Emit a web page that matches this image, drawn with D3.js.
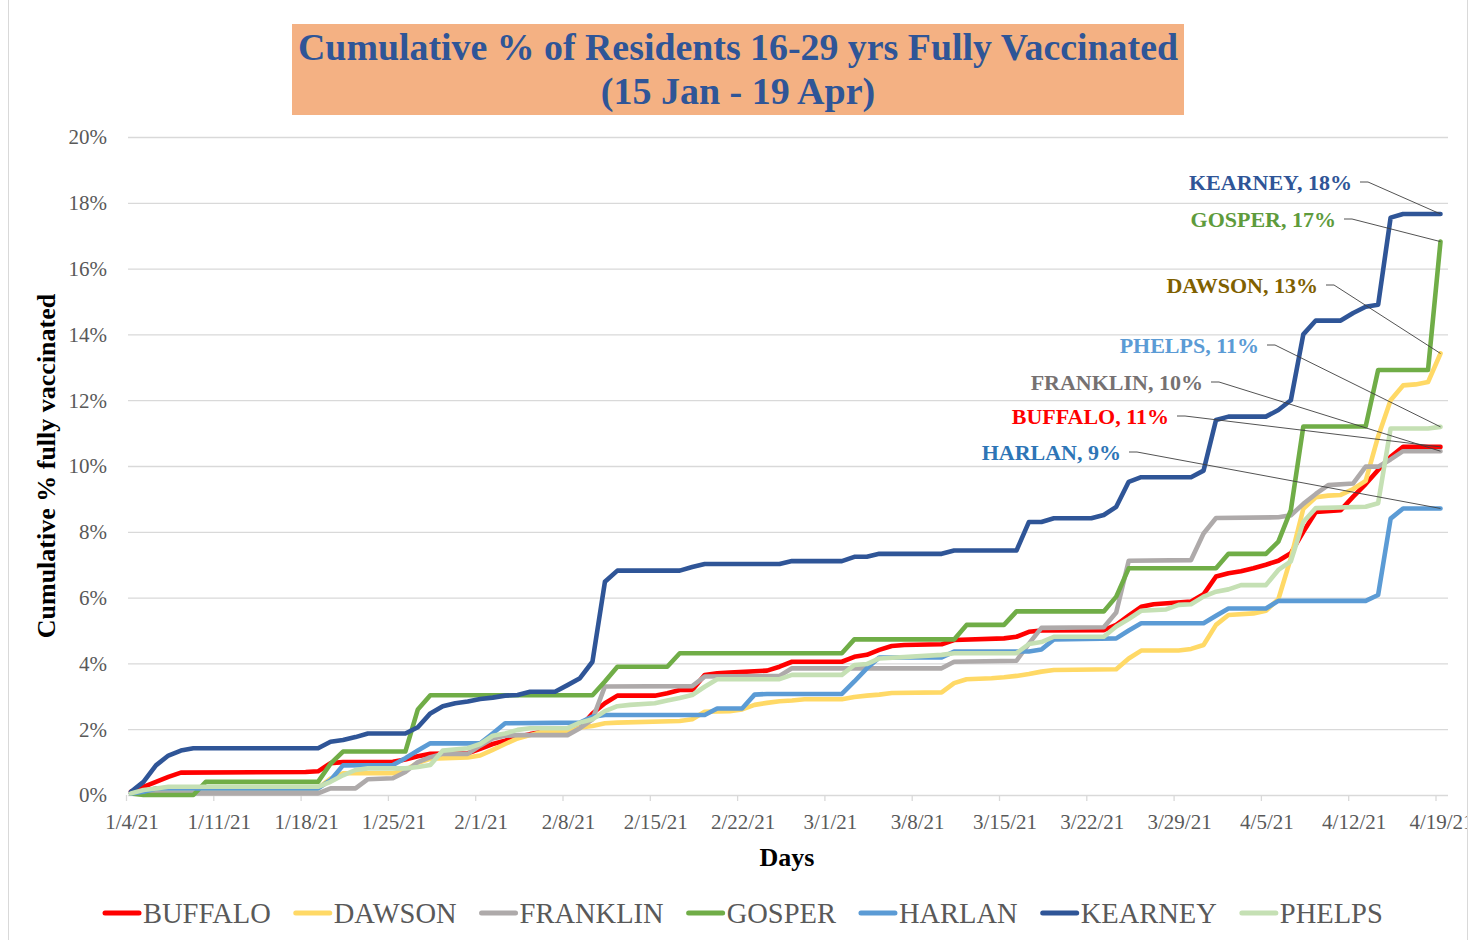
<!DOCTYPE html>
<html><head><meta charset="utf-8">
<script src="https://cdn.jsdelivr.net/npm/d3@7"></script>
<style>
html,body{margin:0;padding:0;background:#fff;}
svg{display:block;font-family:"Liberation Serif","Times New Roman",serif;}
</style></head><body>
<svg id="chart" width="1477" height="940"></svg>
<script>
// ---------- DATA (day offset from start date, cumulative % fully vaccinated) ----------
const startDate = "2021-01-04";
const endDate = "2021-04-19";
const seriesNames = ["BUFFALO","DAWSON","FRANKLIN","GOSPER","HARLAN","KEARNEY","PHELPS"];

const buffalo = [[0,0.1],[1,0.25],[2,0.4],[3,0.55],[4,0.68],[14,0.7],[15,0.72],[16,0.97],[17,1.0],[21,1.01],[22,1.08],[23,1.18],[24,1.25],[27,1.27],[28,1.4],[29,1.55],[30,1.65],[31,1.77],[32,1.85],[33,1.92],[35,1.92],[36,2.05],[37,2.48],[38,2.79],[39,3.02],[42,3.02],[43,3.09],[44,3.19],[45,3.19],[46,3.65],[47,3.7],[48,3.72],[51,3.78],[52,3.9],[53,4.05],[57,4.05],[58,4.2],[59,4.26],[60,4.41],[61,4.53],[62,4.56],[65,4.58],[66,4.71],[70,4.76],[71,4.81],[72,4.96],[73,5.0],[78,5.01],[79,5.17],[80,5.45],[81,5.72],[82,5.8],[85,5.88],[86,6.1],[87,6.64],[88,6.74],[89,6.8],[90,6.89],[91,7.0],[92,7.12],[93,7.35],[94,8.0],[95,8.6],[97,8.66],[98,9.07],[99,9.45],[100,9.88],[101,10.28],[102,10.58],[105,10.58]];

const dawson = [[0,0.05],[1,0.1],[2,0.2],[15,0.2],[16,0.5],[17,0.66],[21,0.66],[22,0.75],[23,0.98],[24,1.1],[27,1.14],[28,1.2],[29,1.37],[30,1.55],[31,1.72],[32,1.82],[33,1.92],[35,1.92],[36,2.05],[37,2.1],[38,2.18],[39,2.2],[44,2.25],[45,2.3],[46,2.53],[48,2.55],[49,2.6],[50,2.74],[51,2.8],[52,2.85],[53,2.87],[54,2.91],[57,2.91],[58,2.98],[59,3.02],[60,3.05],[61,3.1],[65,3.12],[66,3.4],[67,3.52],[69,3.55],[70,3.58],[71,3.62],[72,3.68],[73,3.75],[74,3.8],[79,3.82],[80,4.15],[81,4.39],[84,4.39],[85,4.44],[86,4.56],[87,5.17],[88,5.47],[90,5.52],[91,5.6],[92,5.95],[93,7.2],[94,8.7],[95,9.05],[96,9.1],[97,9.12],[98,9.3],[99,9.55],[100,10.9],[101,12.0],[102,12.45],[103,12.48],[104,12.55],[105,13.42]];

const franklin = [[0,0.05],[15,0.05],[16,0.2],[18,0.2],[19,0.48],[21,0.51],[22,0.7],[23,1.0],[24,1.15],[25,1.25],[27,1.25],[28,1.5],[29,1.72],[30,1.8],[31,1.82],[35,1.82],[36,2.03],[37,2.3],[38,3.3],[45,3.31],[46,3.6],[52,3.62],[53,3.85],[65,3.85],[66,4.05],[71,4.08],[72,4.6],[73,5.08],[78,5.1],[79,5.55],[80,7.12],[85,7.14],[86,7.95],[87,8.42],[92,8.44],[93,8.5],[94,8.85],[95,9.15],[96,9.42],[98,9.47],[99,9.98],[100,9.98],[101,10.2],[102,10.45],[105,10.45]];

const gosper = [[0,0.05],[1,0],[5,0],[6,0.4],[15,0.4],[16,0.95],[17,1.32],[22,1.32],[23,2.6],[24,3.03],[37,3.03],[38,3.45],[39,3.9],[43,3.9],[44,4.31],[57,4.31],[58,4.73],[66,4.73],[67,5.17],[70,5.17],[71,5.58],[78,5.58],[79,6.03],[80,6.89],[87,6.89],[88,7.33],[91,7.33],[92,7.7],[93,8.66],[94,11.2],[99,11.2],[100,12.92],[104,12.92],[105,16.82]];

const harlan = [[0,0.05],[1,0.1],[2,0.2],[15,0.2],[16,0.45],[17,0.9],[21,0.91],[22,1.12],[23,1.35],[24,1.57],[28,1.57],[29,1.87],[30,2.18],[36,2.2],[37,2.38],[38,2.43],[46,2.43],[47,2.63],[49,2.63],[50,3.05],[51,3.07],[57,3.07],[58,3.45],[59,3.85],[60,4.18],[65,4.18],[66,4.36],[72,4.36],[73,4.42],[74,4.73],[79,4.76],[80,5.0],[81,5.22],[86,5.22],[87,5.45],[88,5.67],[91,5.67],[92,5.9],[99,5.9],[100,6.08],[101,8.4],[102,8.71],[105,8.71]];

const kearney = [[0,0.1],[1,0.4],[2,0.9],[3,1.2],[4,1.35],[5,1.42],[15,1.42],[16,1.62],[17,1.67],[18,1.76],[19,1.87],[22,1.87],[23,2.06],[24,2.48],[25,2.7],[26,2.79],[27,2.84],[28,2.92],[29,2.96],[30,3.02],[31,3.04],[32,3.14],[34,3.14],[35,3.34],[36,3.55],[37,4.05],[38,6.48],[39,6.82],[44,6.82],[45,6.93],[46,7.02],[52,7.02],[53,7.11],[57,7.11],[58,7.24],[59,7.24],[60,7.33],[65,7.33],[66,7.43],[71,7.43],[72,8.3],[73,8.3],[74,8.41],[77,8.41],[78,8.51],[79,8.76],[80,9.52],[81,9.66],[85,9.66],[86,9.86],[87,11.4],[88,11.5],[91,11.5],[92,11.7],[93,12.0],[94,14.0],[95,14.42],[97,14.42],[98,14.65],[99,14.84],[100,14.9],[101,17.55],[102,17.66],[105,17.66]];

const phelps = [[0,0.05],[1,0.15],[2,0.2],[3,0.25],[15,0.25],[16,0.4],[17,0.6],[18,0.76],[19,0.81],[22,0.81],[23,0.85],[24,0.91],[25,1.35],[27,1.42],[28,1.55],[29,1.8],[30,1.87],[31,1.98],[32,2.03],[35,2.03],[36,2.2],[37,2.3],[38,2.55],[39,2.7],[40,2.74],[42,2.79],[43,2.87],[44,2.95],[45,3.04],[46,3.29],[47,3.52],[52,3.52],[53,3.65],[57,3.65],[58,3.95],[59,3.98],[60,4.15],[65,4.26],[66,4.31],[71,4.31],[72,4.59],[73,4.65],[74,4.81],[78,4.81],[79,5.12],[80,5.35],[81,5.6],[83,5.64],[84,5.78],[85,5.8],[86,6.03],[87,6.18],[88,6.25],[89,6.38],[91,6.38],[92,6.84],[93,7.1],[94,8.3],[95,8.72],[99,8.76],[100,8.87],[101,11.14],[104,11.14],[105,11.19]];

const yTickValues = [0,2,4,6,8,10,12,14,16,18,20];
const xTickDates = ["2021-01-04","2021-01-11","2021-01-18","2021-01-25","2021-02-01","2021-02-08","2021-02-15","2021-02-22","2021-03-01","2021-03-08","2021-03-15","2021-03-22","2021-03-29","2021-04-05","2021-04-12","2021-04-19"];

const titleLines = ["Cumulative % of Residents 16-29 yrs Fully Vaccinated","(15 Jan - 19 Apr)"];
const yAxisTitle = "Cumulative % fully vaccinated";
const xAxisTitle = "Days";

// ---------- STYLE ----------
const colors = {BUFFALO:"#FF0000",DAWSON:"#FFD966",FRANKLIN:"#AEAAAA",GOSPER:"#70AD47",HARLAN:"#5B9BD5",KEARNEY:"#2F5597",PHELPS:"#C5E0B4"};
const labelColors = {BUFFALO:"#FF0000",DAWSON:"#7F6000",FRANKLIN:"#767171",GOSPER:"#5E9B3C",HARLAN:"#2E75B6",KEARNEY:"#2F5597",PHELPS:"#5B9BD5"};
// label placement (right edge x, center y) — styling
const labelPos = {KEARNEY:[1352,182],GOSPER:[1336,219],DAWSON:[1318,285],PHELPS:[1259,345],FRANKLIN:[1203,382],BUFFALO:[1169,416],HARLAN:[1121,452]};

const seriesData = {BUFFALO:buffalo,DAWSON:dawson,FRANKLIN:franklin,GOSPER:gosper,HARLAN:harlan,KEARNEY:kearney,PHELPS:phelps};

const parse = d3.utcParse("%Y-%m-%d");
const t0 = parse(startDate), t1 = parse(endDate);
const x = d3.scaleUtc().domain([t0,t1]).range([131,1440.5]);
const y = d3.scaleLinear().domain([0,20]).range([795,137]);
const toDate = d => d3.utcDay.offset(t0, d);

const svg = d3.select("#chart");
svg.append("defs").append("clipPath").attr("id","clipAll")
  .append("rect").attr("x",0).attr("y",0).attr("width",1467).attr("height",940);
const root = svg.append("g").attr("clip-path","url(#clipAll)");

// outer border
svg.append("rect").attr("x",8.5).attr("y",-1).attr("width",1459).attr("height",942)
  .attr("fill","none").attr("stroke","#D9D9D9").attr("stroke-width",1);

// title box
root.append("rect").attr("x",292).attr("y",24).attr("width",892).attr("height",91).attr("fill","#F4B183");
root.append("text").attr("x",738).attr("y",60).attr("text-anchor","middle")
  .attr("font-size",38).attr("font-weight","bold").attr("fill","#2F5597")
  .attr("textLength",880).attr("lengthAdjust","spacingAndGlyphs").text(titleLines[0]);
root.append("text").attr("x",738).attr("y",104).attr("text-anchor","middle")
  .attr("font-size",38).attr("font-weight","bold").attr("fill","#2F5597").text(titleLines[1]);

// gridlines
const gx0 = 128, gx1 = 1448;
root.append("g").selectAll("line").data(yTickValues.filter(v=>v>0)).join("line")
  .attr("x1",gx0).attr("x2",gx1).attr("y1",d=>y(d)+0.5).attr("y2",d=>y(d)+0.5)
  .attr("stroke","#D9D9D9").attr("stroke-width",1.3);

// y axis labels
root.append("g").selectAll("text").data(yTickValues).join("text")
  .attr("x",107).attr("y",d=>y(d)).attr("dy","0.35em").attr("text-anchor","end")
  .attr("font-size",21).attr("fill","#595959").text(d=>d+"%");

// x axis line + ticks
root.append("line").attr("x1",gx0).attr("x2",gx1).attr("y1",795.5).attr("y2",795.5)
  .attr("stroke","#D9D9D9").attr("stroke-width",1.3);
const xTicks = xTickDates.map(parse);
root.append("g").selectAll("line").data(xTicks).join("line")
  .attr("x1",d=>x(d)-4.5).attr("x2",d=>x(d)-4.5).attr("y1",795).attr("y2",801)
  .attr("stroke","#D9D9D9").attr("stroke-width",1.3);
const fmt = d3.utcFormat("%-m/%-d/%y");
root.append("g").selectAll("text").data(xTicks).join("text")
  .attr("x",d=>x(d)+1).attr("y",829).attr("text-anchor","middle")
  .attr("font-size",21).attr("fill","#595959").text(d=>fmt(d));

// axis titles
root.append("text").attr("x",787).attr("y",866).attr("text-anchor","middle")
  .attr("font-size",26).attr("font-weight","bold").attr("fill","#000").text(xAxisTitle);
root.append("text").attr("transform","translate(55,466) rotate(-90)").attr("text-anchor","middle")
  .attr("font-size",26).attr("font-weight","bold").attr("fill","#000").text(yAxisTitle);

// lines
const line = d3.line().x(d=>x(toDate(d[0]))).y(d=>y(d[1]));
const gLines = root.append("g");
seriesNames.forEach(name => {
  gLines.append("path").datum(seriesData[name]).attr("d",line)
    .attr("fill","none").attr("stroke",colors[name]).attr("stroke-width",4.6)
    .attr("stroke-linejoin","round").attr("stroke-linecap","round");
});

// data labels with leader lines
const pct = d3.format(".0f");
const gLab = root.append("g");
["KEARNEY","GOSPER","DAWSON","PHELPS","FRANKLIN","BUFFALO","HARLAN"].forEach(name => {
  const data = seriesData[name];
  const last = data[data.length-1];
  const [lx, ly] = labelPos[name];
  const px = x(toDate(last[0])), py = y(last[1]);
  gLab.append("path")
    .attr("d", `M${lx+8},${ly} L${lx+16},${ly} L${px},${py}`)
    .attr("fill","none").attr("stroke","#404040").attr("stroke-width",0.9);
  gLab.append("text").attr("x",lx).attr("y",ly).attr("dy","0.35em").attr("text-anchor","end")
    .attr("font-size",22).attr("font-weight","bold").attr("fill",labelColors[name])
    .text(`${name}, ${pct(last[1])}%`);
});

// legend
const gLeg = root.append("g");
let lxPos = 103;
seriesNames.forEach(name => {
  gLeg.append("line").attr("x1",lxPos+2).attr("x2",lxPos+36).attr("y1",913).attr("y2",913)
    .attr("stroke",colors[name]).attr("stroke-width",5).attr("stroke-linecap","round");
  const t = gLeg.append("text").attr("x",lxPos+40).attr("y",913).attr("dy","0.35em")
    .attr("font-size",28.5).attr("fill","#595959").text(name);
  const w = t.node().getComputedTextLength();
  lxPos = lxPos + 40 + w + 23;
});
</script>
</body></html>
